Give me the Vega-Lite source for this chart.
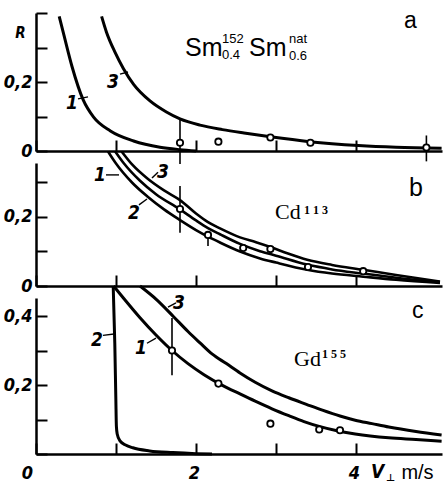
{
  "$schema": "https://vega.github.io/schema/vega-lite/v6.json",
  "background": "white",
  "padding": {"left": 3, "top": 4, "right": 0, "bottom": 0},
  "spacing": 12,
  "bounds": "flush",
  "config": {
    "view": {"stroke": null},
    "axis": {
      "grid": false, "domainColor": "black", "domainWidth": 2.5,
      "tickColor": "black", "tickWidth": 2, "tickSize": -11,
      "labelColor": "black", "labelFont": "Liberation Sans Narrow, DejaVu Sans Condensed, sans-serif",
      "labelFontSize": 18, "labelFontStyle": "italic", "labelFontWeight": "bold",
      "labelFlush": false, "labelOverlap": false, "titleColor": "black"
    },
    "axisY": {"labelPadding": 15},
    "axisX": {"labelPadding": 21}
  },
  "datasets": {
    "a_curves": [
      {"c": "1", "v": 0.29, "R": 0.39}, {"c": "1", "v": 0.35, "R": 0.335}, {"c": "1", "v": 0.45, "R": 0.245},
      {"c": "1", "v": 0.59, "R": 0.148}, {"c": "1", "v": 0.72, "R": 0.098}, {"c": "1", "v": 0.93, "R": 0.058},
      {"c": "1", "v": 1.22, "R": 0.029}, {"c": "1", "v": 1.55, "R": 0.011}, {"c": "1", "v": 1.8, "R": 0.004},
      {"c": "1", "v": 2.0, "R": 0.0},
      {"c": "3", "v": 0.82, "R": 0.39}, {"c": "3", "v": 0.88, "R": 0.345}, {"c": "3", "v": 0.99, "R": 0.285},
      {"c": "3", "v": 1.09, "R": 0.24}, {"c": "3", "v": 1.22, "R": 0.193}, {"c": "3", "v": 1.425, "R": 0.145},
      {"c": "3", "v": 1.63, "R": 0.113}, {"c": "3", "v": 1.8, "R": 0.093}, {"c": "3", "v": 2.05, "R": 0.075},
      {"c": "3", "v": 2.33, "R": 0.062}, {"c": "3", "v": 2.6, "R": 0.052}, {"c": "3", "v": 2.93, "R": 0.041},
      {"c": "3", "v": 3.42, "R": 0.027}, {"c": "3", "v": 4.03, "R": 0.016}, {"c": "3", "v": 4.5, "R": 0.011},
      {"c": "3", "v": 5.07, "R": 0.008}
    ],
    "a_pts": [
      {"v": 1.8, "R": 0.024}, {"v": 2.28, "R": 0.027}, {"v": 2.93, "R": 0.039}, {"v": 3.43, "R": 0.024}, {"v": 4.88, "R": 0.01}
    ],
    "a_err": [
      {"v": 1.8, "R": -0.038, "R2": 0.093}, {"v": 4.88, "R": -0.03, "R2": 0.045}
    ],
    "a_text": [
      {"k": "main", "t": "Sm", "v": 1.8625, "R": 0.275},
      {"k": "main", "t": "Sm", "v": 2.6625, "R": 0.275},
      {"k": "sub", "t": "152", "v": 2.325, "R": 0.313},
      {"k": "sub", "t": "0.4", "v": 2.325, "R": 0.267},
      {"k": "sub", "t": "nat", "v": 3.1625, "R": 0.313},
      {"k": "sub", "t": "0.6", "v": 3.1625, "R": 0.264},
      {"k": "letter", "t": "a", "v": 4.6, "R": 0.357},
      {"k": "num", "t": "1", "v": 0.45, "R": 0.122},
      {"k": "num", "t": "3", "v": 0.9625, "R": 0.183}
    ],
    "a_lead": [
      {"v": 0.525, "R": 0.151, "v2": 0.65, "R2": 0.157},
      {"v": 1.05, "R": 0.223, "v2": 1.15, "R2": 0.229}
    ],
    "b_curves": [
      {"c": "3", "v": 1.07, "R": 0.39}, {"c": "3", "v": 1.21, "R": 0.35}, {"c": "3", "v": 1.4, "R": 0.31},
      {"c": "3", "v": 1.6, "R": 0.277}, {"c": "3", "v": 1.8, "R": 0.249}, {"c": "3", "v": 2.0, "R": 0.21},
      {"c": "3", "v": 2.15, "R": 0.185}, {"c": "3", "v": 2.3, "R": 0.167}, {"c": "3", "v": 2.55, "R": 0.141},
      {"c": "3", "v": 2.75, "R": 0.127}, {"c": "3", "v": 2.93, "R": 0.113}, {"c": "3", "v": 3.15, "R": 0.094},
      {"c": "3", "v": 3.39, "R": 0.076}, {"c": "3", "v": 3.7, "R": 0.061}, {"c": "3", "v": 4.09, "R": 0.047},
      {"c": "3", "v": 4.5, "R": 0.032}, {"c": "3", "v": 5.05, "R": 0.013},
      {"c": "1", "v": 0.99, "R": 0.39}, {"c": "1", "v": 1.1, "R": 0.355}, {"c": "1", "v": 1.3, "R": 0.305},
      {"c": "1", "v": 1.5, "R": 0.266}, {"c": "1", "v": 1.8, "R": 0.222}, {"c": "1", "v": 2.0, "R": 0.19},
      {"c": "1", "v": 2.15, "R": 0.168}, {"c": "1", "v": 2.3, "R": 0.15}, {"c": "1", "v": 2.55, "R": 0.122},
      {"c": "1", "v": 2.8, "R": 0.101}, {"c": "1", "v": 3.0, "R": 0.088}, {"c": "1", "v": 3.39, "R": 0.062},
      {"c": "1", "v": 3.7, "R": 0.048}, {"c": "1", "v": 4.09, "R": 0.036}, {"c": "1", "v": 4.5, "R": 0.024},
      {"c": "1", "v": 5.05, "R": 0.011},
      {"c": "2", "v": 0.9, "R": 0.39}, {"c": "2", "v": 1.0, "R": 0.355}, {"c": "2", "v": 1.2, "R": 0.3},
      {"c": "2", "v": 1.4, "R": 0.258}, {"c": "2", "v": 1.6, "R": 0.222}, {"c": "2", "v": 1.8, "R": 0.191},
      {"c": "2", "v": 2.0, "R": 0.162}, {"c": "2", "v": 2.15, "R": 0.143}, {"c": "2", "v": 2.3, "R": 0.126},
      {"c": "2", "v": 2.55, "R": 0.1}, {"c": "2", "v": 2.8, "R": 0.08}, {"c": "2", "v": 3.0, "R": 0.068},
      {"c": "2", "v": 3.39, "R": 0.047}, {"c": "2", "v": 3.7, "R": 0.036}, {"c": "2", "v": 4.09, "R": 0.027},
      {"c": "2", "v": 4.5, "R": 0.018}, {"c": "2", "v": 5.05, "R": 0.009}
    ],
    "b_pts": [
      {"v": 1.8, "R": 0.223}, {"v": 2.15, "R": 0.148}, {"v": 2.59, "R": 0.11}, {"v": 2.93, "R": 0.107},
      {"v": 3.4, "R": 0.055}, {"v": 4.09, "R": 0.043}
    ],
    "b_err": [
      {"v": 1.8, "R": 0.154, "R2": 0.29}, {"v": 2.15, "R": 0.116, "R2": 0.148}
    ],
    "b_text": [
      {"k": "main", "t": "Cd", "v": 2.9875, "R": 0.194},
      {"k": "sub", "t": "1 1 3", "v": 3.35, "R": 0.209},
      {"k": "letter", "t": "b", "v": 4.6625, "R": 0.261},
      {"k": "num", "t": "1", "v": 0.8, "R": 0.304},
      {"k": "num", "t": "3", "v": 1.5875, "R": 0.313},
      {"k": "num", "t": "2", "v": 1.225, "R": 0.194}
    ],
    "b_lead": [
      {"v": 0.875, "R": 0.322, "v2": 1.0375, "R2": 0.322},
      {"v": 1.45, "R": 0.313, "v2": 1.525, "R2": 0.33},
      {"v": 1.2875, "R": 0.235, "v2": 1.3875, "R2": 0.252}
    ],
    "c_curves": [
      {"c": "2", "v": 0.965, "R": 0.487}, {"c": "2", "v": 0.985, "R": 0.32}, {"c": "2", "v": 0.998, "R": 0.16},
      {"c": "2", "v": 1.005, "R": 0.08}, {"c": "2", "v": 1.015, "R": 0.058}, {"c": "2", "v": 1.05, "R": 0.038},
      {"c": "2", "v": 1.12, "R": 0.026}, {"c": "2", "v": 1.21, "R": 0.018}, {"c": "2", "v": 1.42, "R": 0.009},
      {"c": "2", "v": 1.71, "R": 0.004}, {"c": "2", "v": 2.0, "R": 0.001}, {"c": "2", "v": 2.2, "R": 0.0},
      {"c": "1", "v": 0.97, "R": 0.487}, {"c": "1", "v": 1.1, "R": 0.45}, {"c": "1", "v": 1.3, "R": 0.395},
      {"c": "1", "v": 1.5, "R": 0.345}, {"c": "1", "v": 1.7, "R": 0.3}, {"c": "1", "v": 1.9, "R": 0.262},
      {"c": "1", "v": 2.1, "R": 0.23}, {"c": "1", "v": 2.33, "R": 0.199}, {"c": "1", "v": 2.55, "R": 0.174},
      {"c": "1", "v": 2.74, "R": 0.153}, {"c": "1", "v": 2.95, "R": 0.131}, {"c": "1", "v": 3.16, "R": 0.111},
      {"c": "1", "v": 3.35, "R": 0.094}, {"c": "1", "v": 3.54, "R": 0.08}, {"c": "1", "v": 3.75, "R": 0.068},
      {"c": "1", "v": 3.99, "R": 0.058}, {"c": "1", "v": 4.41, "R": 0.047}, {"c": "1", "v": 4.75, "R": 0.042},
      {"c": "1", "v": 5.07, "R": 0.037},
      {"c": "3", "v": 1.3, "R": 0.487}, {"c": "3", "v": 1.51, "R": 0.447}, {"c": "3", "v": 1.72, "R": 0.398},
      {"c": "3", "v": 1.9, "R": 0.355}, {"c": "3", "v": 2.05, "R": 0.322}, {"c": "3", "v": 2.2, "R": 0.29},
      {"c": "3", "v": 2.38, "R": 0.262}, {"c": "3", "v": 2.55, "R": 0.235}, {"c": "3", "v": 2.74, "R": 0.208},
      {"c": "3", "v": 2.95, "R": 0.183}, {"c": "3", "v": 3.16, "R": 0.163}, {"c": "3", "v": 3.38, "R": 0.144},
      {"c": "3", "v": 3.58, "R": 0.127}, {"c": "3", "v": 3.8, "R": 0.11}, {"c": "3", "v": 3.99, "R": 0.098},
      {"c": "3", "v": 4.2, "R": 0.088}, {"c": "3", "v": 4.41, "R": 0.078}, {"c": "3", "v": 4.75, "R": 0.065},
      {"c": "3", "v": 5.07, "R": 0.055}
    ],
    "c_pts": [
      {"v": 1.7, "R": 0.3}, {"v": 2.28, "R": 0.204}, {"v": 2.93, "R": 0.088}, {"v": 3.54, "R": 0.071}, {"v": 3.8, "R": 0.069}
    ],
    "c_err": [
      {"v": 1.7, "R": 0.228, "R2": 0.394}
    ],
    "c_text": [
      {"k": "main", "t": "Gd", "v": 3.225, "R": 0.255},
      {"k": "sub", "t": "1 5 5", "v": 3.575, "R": 0.278},
      {"k": "letter", "t": "c", "v": 4.7, "R": 0.394},
      {"k": "num", "t": "2", "v": 0.7625, "R": 0.313},
      {"k": "num", "t": "1", "v": 1.3125, "R": 0.29},
      {"k": "num", "t": "3", "v": 1.7875, "R": 0.42},
      {"k": "vel", "t": "V", "v": 4.27, "R": -0.0696},
      {"k": "perp", "t": "⊥", "v": 4.375, "R": -0.079}
    ],
    "c_lead": [
      {"v": 0.8375, "R": 0.344, "v2": 0.975, "R2": 0.348},
      {"v": 1.3875, "R": 0.321, "v2": 1.5, "R2": 0.336},
      {"v": 1.65, "R": 0.426, "v2": 1.75, "R2": 0.438}
    ]
  },
  "vconcat": [
    {
      "width": 406, "height": 138,
      "encoding": {
        "x": {"field": "v", "type": "quantitative", "scale": {"domain": [0, 5.075], "nice": false, "zero": false},
              "axis": {"values": [0, 1, 2, 3, 4], "labels": false, "title": null}},
        "y": {"field": "R", "type": "quantitative", "scale": {"domain": [0, 0.4], "nice": false},
              "axis": {"values": [0, 0.1, 0.2, 0.3, 0.4],
                       "labelExpr": "datum.value == 0 ? '0' : datum.value == 0.2 ? '0,2' : ''",
                       "title": "R", "titleAngle": 0, "titleX": -16, "titleY": 24, "titleAlign": "center",
                       "titleBaseline": "alphabetic", "titleFont": "Liberation Sans Narrow, DejaVu Sans Condensed, sans-serif",
                       "titleFontSize": 15, "titleFontStyle": "italic", "titleFontWeight": "bold"}}
      },
      "layer": [
        {"data": {"name": "a_curves"}, "mark": {"type": "line", "stroke": "black", "strokeWidth": 3, "interpolate": "monotone"},
         "encoding": {"detail": {"field": "c"}}},
        {"data": {"name": "a_err"}, "mark": {"type": "rule", "stroke": "black", "strokeWidth": 1.6},
         "encoding": {"y2": {"field": "R2"}}},
        {"data": {"name": "a_lead"}, "mark": {"type": "rule", "stroke": "black", "strokeWidth": 1.4},
         "encoding": {"x2": {"field": "v2"}, "y2": {"field": "R2"}}},
        {"data": {"name": "a_pts"}, "mark": {"type": "point", "shape": "circle", "filled": true, "fill": "white", "stroke": "black", "strokeWidth": 1.8, "size": 40, "opacity": 1}},
        {"data": {"name": "a_text"}, "transform": [{"filter": "datum.k == 'main'"}],
         "mark": {"type": "text", "align": "left", "baseline": "alphabetic", "font": "Liberation Sans", "fontSize": 25, "color": "black"},
         "encoding": {"text": {"field": "t"}}},
        {"data": {"name": "a_text"}, "transform": [{"filter": "datum.k == 'sub'"}],
         "mark": {"type": "text", "align": "left", "baseline": "alphabetic", "font": "Liberation Sans", "fontSize": 13, "color": "black"},
         "encoding": {"text": {"field": "t"}}},
        {"data": {"name": "a_text"}, "transform": [{"filter": "datum.k == 'letter'"}],
         "mark": {"type": "text", "align": "left", "baseline": "alphabetic", "font": "Liberation Sans", "fontSize": 23, "color": "black"},
         "encoding": {"text": {"field": "t"}}},
        {"data": {"name": "a_text"}, "transform": [{"filter": "datum.k == 'num'"}],
         "mark": {"type": "text", "align": "center", "baseline": "alphabetic", "font": "Liberation Sans Narrow, DejaVu Sans Condensed, sans-serif", "fontSize": 19, "fontStyle": "italic", "fontWeight": "bold", "color": "black"},
         "encoding": {"text": {"field": "t"}}}
      ]
    },
    {
      "width": 406, "height": 123,
      "encoding": {
        "x": {"field": "v", "type": "quantitative", "scale": {"domain": [0, 5.075], "nice": false, "zero": false},
              "axis": {"values": [0, 1, 2, 3, 4], "labels": false, "title": null}},
        "y": {"field": "R", "type": "quantitative", "scale": {"domain": [0, 0.3565], "nice": false},
              "axis": {"values": [0, 0.1, 0.2, 0.3],
                       "labelExpr": "datum.value == 0 ? '0' : datum.value == 0.2 ? '0,2' : ''", "title": null}}
      },
      "layer": [
        {"data": {"name": "b_curves"}, "mark": {"type": "line", "stroke": "black", "strokeWidth": 2.6, "interpolate": "monotone"},
         "encoding": {"detail": {"field": "c"}}},
        {"data": {"name": "b_err"}, "mark": {"type": "rule", "stroke": "black", "strokeWidth": 1.6},
         "encoding": {"y2": {"field": "R2"}}},
        {"data": {"name": "b_lead"}, "mark": {"type": "rule", "stroke": "black", "strokeWidth": 1.4},
         "encoding": {"x2": {"field": "v2"}, "y2": {"field": "R2"}}},
        {"data": {"name": "b_pts"}, "mark": {"type": "point", "shape": "circle", "filled": true, "fill": "white", "stroke": "black", "strokeWidth": 1.8, "size": 40, "opacity": 1}},
        {"data": {"name": "b_text"}, "transform": [{"filter": "datum.k == 'main'"}],
         "mark": {"type": "text", "align": "left", "baseline": "alphabetic", "font": "Liberation Serif", "fontSize": 22, "color": "black"},
         "encoding": {"text": {"field": "t"}}},
        {"data": {"name": "b_text"}, "transform": [{"filter": "datum.k == 'sub'"}],
         "mark": {"type": "text", "align": "left", "baseline": "alphabetic", "font": "Liberation Serif", "fontSize": 12, "fontWeight": "bold", "color": "black"},
         "encoding": {"text": {"field": "t"}}},
        {"data": {"name": "b_text"}, "transform": [{"filter": "datum.k == 'letter'"}],
         "mark": {"type": "text", "align": "left", "baseline": "alphabetic", "font": "Liberation Sans", "fontSize": 25, "color": "black"},
         "encoding": {"text": {"field": "t"}}},
        {"data": {"name": "b_text"}, "transform": [{"filter": "datum.k == 'num'"}],
         "mark": {"type": "text", "align": "center", "baseline": "alphabetic", "font": "Liberation Sans Narrow, DejaVu Sans Condensed, sans-serif", "fontSize": 19, "fontStyle": "italic", "fontWeight": "bold", "color": "black"},
         "encoding": {"text": {"field": "t"}}}
      ]
    },
    {
      "width": 406, "height": 156,
      "encoding": {
        "x": {"field": "v", "type": "quantitative", "scale": {"domain": [0, 5.075], "nice": false, "zero": false},
              "axis": {"values": [0, 1, 2, 3, 4],
                       "labelExpr": "datum.value == 0 ? '0' : datum.value == 2 ? '2' : datum.value == 4 ? '4' : ''",
                       "labelBaseline": "top",
                       "labelOffset": {"condition": {"test": "datum.value == 0", "value": -9}, "value": -2},
                       "title": "m/s", "titleX": 381, "titleY": 24, "titleAlign": "center", "titleBaseline": "alphabetic",
                       "titleFont": "Liberation Sans", "titleFontSize": 20, "titleFontWeight": "normal", "titleFontStyle": "normal"}},
        "y": {"field": "R", "type": "quantitative", "scale": {"domain": [0, 0.4522], "nice": false},
              "axis": {"values": [0, 0.1, 0.2, 0.3, 0.4],
                       "labelExpr": "datum.value == 0.2 ? '0,2' : datum.value == 0.4 ? '0,4' : ''", "title": null}}
      },
      "layer": [
        {"data": {"name": "c_curves"}, "mark": {"type": "line", "stroke": "black", "strokeWidth": 3, "interpolate": "monotone"},
         "encoding": {"detail": {"field": "c"}}},
        {"data": {"name": "c_err"}, "mark": {"type": "rule", "stroke": "black", "strokeWidth": 1.6},
         "encoding": {"y2": {"field": "R2"}}},
        {"data": {"name": "c_lead"}, "mark": {"type": "rule", "stroke": "black", "strokeWidth": 1.4},
         "encoding": {"x2": {"field": "v2"}, "y2": {"field": "R2"}}},
        {"data": {"name": "c_pts"}, "mark": {"type": "point", "shape": "circle", "filled": true, "fill": "white", "stroke": "black", "strokeWidth": 1.8, "size": 40, "opacity": 1}},
        {"data": {"name": "c_text"}, "transform": [{"filter": "datum.k == 'main'"}],
         "mark": {"type": "text", "align": "left", "baseline": "alphabetic", "font": "Liberation Serif", "fontSize": 22, "color": "black"},
         "encoding": {"text": {"field": "t"}}},
        {"data": {"name": "c_text"}, "transform": [{"filter": "datum.k == 'sub'"}],
         "mark": {"type": "text", "align": "left", "baseline": "alphabetic", "font": "Liberation Serif", "fontSize": 12, "fontWeight": "bold", "color": "black"},
         "encoding": {"text": {"field": "t"}}},
        {"data": {"name": "c_text"}, "transform": [{"filter": "datum.k == 'letter'"}],
         "mark": {"type": "text", "align": "left", "baseline": "alphabetic", "font": "Liberation Sans", "fontSize": 23, "color": "black"},
         "encoding": {"text": {"field": "t"}}},
        {"data": {"name": "c_text"}, "transform": [{"filter": "datum.k == 'num' || datum.k == 'vel'"}],
         "mark": {"type": "text", "align": "center", "baseline": "alphabetic", "font": "Liberation Sans Narrow, DejaVu Sans Condensed, sans-serif", "fontSize": 19, "fontStyle": "italic", "fontWeight": "bold", "color": "black"},
         "encoding": {"text": {"field": "t"}}},
        {"data": {"name": "c_text"}, "transform": [{"filter": "datum.k == 'perp'"}],
         "mark": {"type": "text", "align": "left", "baseline": "alphabetic", "font": "DejaVu Sans", "fontSize": 10, "fontWeight": "bold", "color": "black"},
         "encoding": {"text": {"field": "t"}}}
      ]
    }
  ]
}
